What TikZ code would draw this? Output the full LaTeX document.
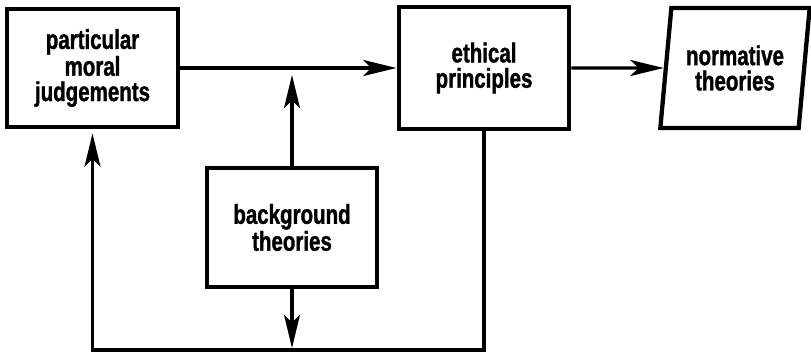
\documentclass[tikz,border=0pt]{standalone}
\usepackage{fontspec}
\newfontfamily\boxfont{Liberation Sans}[FakeStretch=0.75, FakeBold=1.2]
\usepackage{tikz}
\usetikzlibrary{positioning,arrows.meta,shapes.geometric}
\tikzset{
  flowarrow/.style={-{Stealth[length=25pt, width=12pt, inset=6pt]}, line width=2.5pt},
  theorybox/.style={draw, line width=3.2pt, minimum width=128pt, minimum height=89pt, inner sep=2pt, align=center, font=\boxfont\bfseries\fontsize{20.5}{19}\selectfont},
  outbox/.style={theorybox, trapezium, trapezium left angle=80, trapezium right angle=100, trapezium stretches=true, minimum width=112pt, minimum height=90pt}
}

\begin{document}
\begin{tikzpicture}[x=0.75pt, y=-0.75pt]
  \useasboundingbox (0,0) rectangle (811,352);
  \node[theorybox] (judg) at (92.5,68) {particular\\moral\\judgements};
  \node[theorybox, minimum height=92pt] (eth) at (484,68) {ethical\\principles};
  \node[outbox] (norm) at (735,68) {normative\\theories};
  \node[theorybox, minimum width=127pt] (bg) at (292,227.5) {background\\theories};
  \coordinate (uptip) at (292,75);
  \coordinate (downtip) at (292,348);
  \coordinate (loopL) at (92.5,350);
  \draw[flowarrow] (judg) -- (eth);
  \draw[flowarrow] (eth) -- (norm);
  \draw[flowarrow] (bg.north) -- (uptip);
  \draw[flowarrow] (bg.south) -- (downtip);
  \draw[flowarrow, shorten >=3pt] (eth.south) |- (loopL) -- (judg.south);
\end{tikzpicture}
\end{document}
